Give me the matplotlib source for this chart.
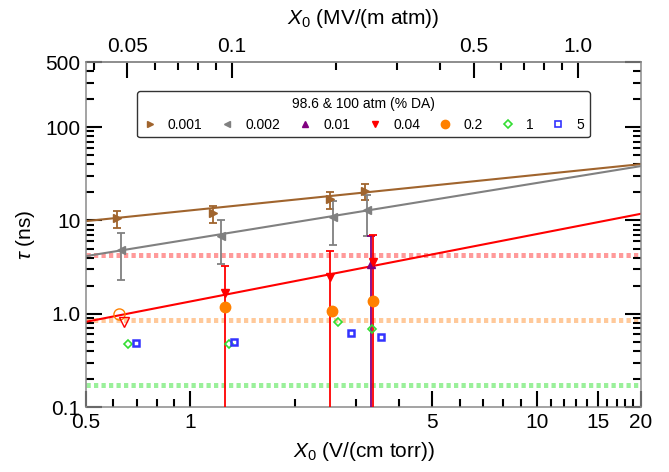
import matplotlib
matplotlib.use('Agg')
import matplotlib.pyplot as plt
import numpy as np
from matplotlib.lines import Line2D
from matplotlib.ticker import FixedLocator, FixedFormatter, NullFormatter

plt.rcParams['font.family'] = ['Liberation Sans', 'DejaVu Sans']
plt.rcParams['mathtext.fontset'] = 'custom'
plt.rcParams['mathtext.it'] = 'Liberation Sans:italic'
plt.rcParams['mathtext.rm'] = 'Liberation Sans'

# ---------------- data ----------------
x_001 = [0.613, 1.161, 2.53, 3.195]
y_001 = [10.5, 11.9, 16.8, 20.7]
e_001 = [2.2, 2.4, 3.4, 4.2]

x_002 = [0.631, 1.227, 2.59, 3.24]
y_002 = [4.82, 6.81, 10.8, 12.9]
e_002 = [2.5, 3.4, 5.3, 6.0]

x_01 = [3.32]
y_01 = [3.41]
y_01_lo = [0.01]
y_01_hi = [6.81]

x_04 = [1.26, 2.53, 3.376]
y_04 = [1.65, 2.49, 3.61]
y_04_lo = [0.01, 0.01, 0.01]
y_04_hi = [3.25, 4.73, 6.97]

x_2 = [1.26, 2.57, 3.36]
y_2 = [1.19, 1.07, 1.38]

x_1 = [0.663, 1.296, 2.676, 3.354]
y_1 = [0.473, 0.473, 0.81, 0.686]

x_5 = [0.696, 1.34, 2.91, 3.55]
y_5 = [0.481, 0.50, 0.617, 0.567]

x_open_2 = [0.624]
y_open_2 = [0.993]
x_open_04 = [0.645]
y_open_04 = [0.82]

fit_x = [0.5, 20]
fit_001 = [9.85, 40.2]
fit_002 = [4.15, 38.3]
fit_04 = [0.82, 11.8]

ref_levels = [4.26, 0.856, 0.172]
ref_colors = ['#ff9a9a', '#ffc99a', '#9af09a']

labels = ['0.001', '0.002', '0.01', '0.04', '0.2', '1', '5']
legend_title = '98.6 & 100 atm (% DA)'

xticks = [0.5, 1, 5, 10, 15, 20]
xtick_labels = ['0.5', '1', '5', '10', '15', '20']
xminor = [0.6, 0.7, 0.8, 0.9, 2, 3, 4, 6, 7, 8, 9, 11, 12, 13, 14, 16, 17, 18, 19]
yticks = [0.1, 1, 10, 100, 500]
ytick_labels = ['0.1', '1.0', '10', '100', '500']
yminor = [0.2, 0.3, 0.4, 0.5, 0.6, 0.7, 0.8, 0.9, 2, 3, 4, 5, 6, 7, 8, 9,
          20, 30, 40, 50, 60, 70, 80, 90, 200, 300, 400]
top_ticks = [0.05, 0.1, 0.5, 1.0]
top_labels = ['0.05', '0.1', '0.5', '1.0']
top_minor = [0.04, 0.06, 0.07, 0.08, 0.09, 0.2, 0.3, 0.4, 0.6, 0.7, 0.8, 0.9]
conv = 0.076  # V/(cm torr) -> MV/(m atm)

c_brown = '#a0642d'
c_gray = '#808080'
c_purple = '#800080'
c_red = '#ff0000'
c_orange = '#ff8000'
c_green = '#33dd33'
c_blue = '#3333ff'

# ---------------- figure ----------------
fig = plt.figure(figsize=(6.69, 4.72), dpi=100)
ax = fig.add_axes([0.1286, 0.1377, 0.8295, 0.7309])
ax.set_xscale('log')
ax.set_yscale('log')
ax.set_xlim(0.5, 20)
ax.set_ylim(0.1, 500)

# reference dotted lines
for lvl, col in zip(ref_levels, ref_colors):
    ax.axhline(lvl, color=col, lw=3.6, linestyle=(0, (0.85, 0.65)), zorder=1)

# fit lines
ax.plot(fit_x, fit_001, color=c_brown, lw=1.5, zorder=2)
ax.plot(fit_x, fit_002, color=c_gray, lw=1.5, zorder=2)
ax.plot(fit_x, fit_04, color=c_red, lw=1.5, zorder=2)

# data with error bars
ax.errorbar(x_001, y_001, yerr=e_001, fmt='>', color=c_brown, ms=6,
            elinewidth=1.3, capsize=3, capthick=1.3, zorder=4)
ax.errorbar(x_002, y_002, yerr=e_002, fmt='<', color=c_gray, ms=6,
            elinewidth=1.3, capsize=3, capthick=1.3, zorder=4)
yerr_01 = [np.array(y_01) - np.array(y_01_lo), np.array(y_01_hi) - np.array(y_01)]
ax.errorbar(x_01, y_01, yerr=yerr_01, fmt='^', color=c_purple, ms=6,
            elinewidth=1.3, capsize=3, capthick=1.3, zorder=4)
yerr_04 = [np.array(y_04) - np.array(y_04_lo), np.array(y_04_hi) - np.array(y_04)]
ax.errorbar(x_04, y_04, yerr=yerr_04, fmt='v', color=c_red, ms=6,
            elinewidth=1.3, capsize=3, capthick=1.3, zorder=4)
ax.plot(x_2, y_2, 'o', color=c_orange, ms=7.5, zorder=5)
ax.plot(x_1, y_1, 'D', mfc='none', mec=c_green, mew=1.2, ms=4.5, ls='none', zorder=5)
ax.plot(x_5, y_5, 's', mfc='none', mec=c_blue, mew=1.8, ms=4.5, ls='none', zorder=5)
ax.plot(x_open_2, y_open_2, 'o', mfc='none', mec=c_orange, mew=1.0, ms=8, ls='none', zorder=5)
ax.plot(x_open_04, y_open_04, 'v', mfc='none', mec=c_red, mew=1.0, ms=7, ls='none', zorder=5)

# ticks
ax.xaxis.set_major_locator(FixedLocator(xticks))
ax.xaxis.set_major_formatter(FixedFormatter(xtick_labels))
ax.xaxis.set_minor_locator(FixedLocator(xminor))
ax.xaxis.set_minor_formatter(NullFormatter())
ax.yaxis.set_major_locator(FixedLocator(yticks))
ax.yaxis.set_major_formatter(FixedFormatter(ytick_labels))
ax.yaxis.set_minor_locator(FixedLocator(yminor))
ax.yaxis.set_minor_formatter(NullFormatter())
ax.tick_params(which='both', direction='in', top=False, right=True, color='black',
               labelsize=15, pad=4)
ax.tick_params(which='major', length=11.5, width=1.5)
ax.tick_params(which='minor', length=5.8, width=1.5)
for s in ax.spines.values():
    s.set_color('#8a8a8a')
    s.set_linewidth(1.1)

ax.set_xlabel(r'$X_0$ (V/(cm torr))', fontsize=15, labelpad=6)
ax.set_ylabel(r'$\tau$ (ns)', fontsize=15, labelpad=6)

# top axis
sec = ax.secondary_xaxis('top', functions=(lambda x: x * conv, lambda x: x / conv))
sec.xaxis.set_major_locator(FixedLocator(top_ticks))
sec.xaxis.set_major_formatter(FixedFormatter(top_labels))
sec.xaxis.set_minor_locator(FixedLocator(top_minor))
sec.xaxis.set_minor_formatter(NullFormatter())
sec.tick_params(which='both', direction='in', color='black', labelsize=15, pad=4)
sec.tick_params(which='major', length=11.5, width=1.5)
sec.tick_params(which='minor', length=5.8, width=1.5)
sec.spines['top'].set_color('#8a8a8a')
sec.spines['top'].set_linewidth(1.1)
sec.set_xlabel(r'$X_0$ (MV/(m atm))', fontsize=15, labelpad=10)

# legend
handles = [
    Line2D([], [], marker='>', color=c_brown, ls='none', ms=5),
    Line2D([], [], marker='<', color=c_gray, ls='none', ms=5),
    Line2D([], [], marker='^', color=c_purple, ls='none', ms=5),
    Line2D([], [], marker='v', color=c_red, ls='none', ms=5),
    Line2D([], [], marker='o', color=c_orange, ls='none', ms=6),
    Line2D([], [], marker='D', mfc='none', mec=c_green, mew=1.2, ls='none', ms=4.5),
    Line2D([], [], marker='s', mfc='none', mec=c_blue, mew=1.2, ls='none', ms=4.5),
]
leg = ax.legend(handles, labels, title=legend_title, ncol=7, loc='upper center',
                bbox_to_anchor=(0.5, 0.935), fontsize=10, title_fontsize=10,
                handlelength=1.0, handletextpad=0.8, columnspacing=1.3,
                frameon=True, fancybox=True, borderpad=0.4)
leg.get_frame().set_edgecolor('#333333')
leg.get_frame().set_linewidth(1.0)
leg.get_frame().set_alpha(1.0)

fig.savefig('out.png', dpi=100)
